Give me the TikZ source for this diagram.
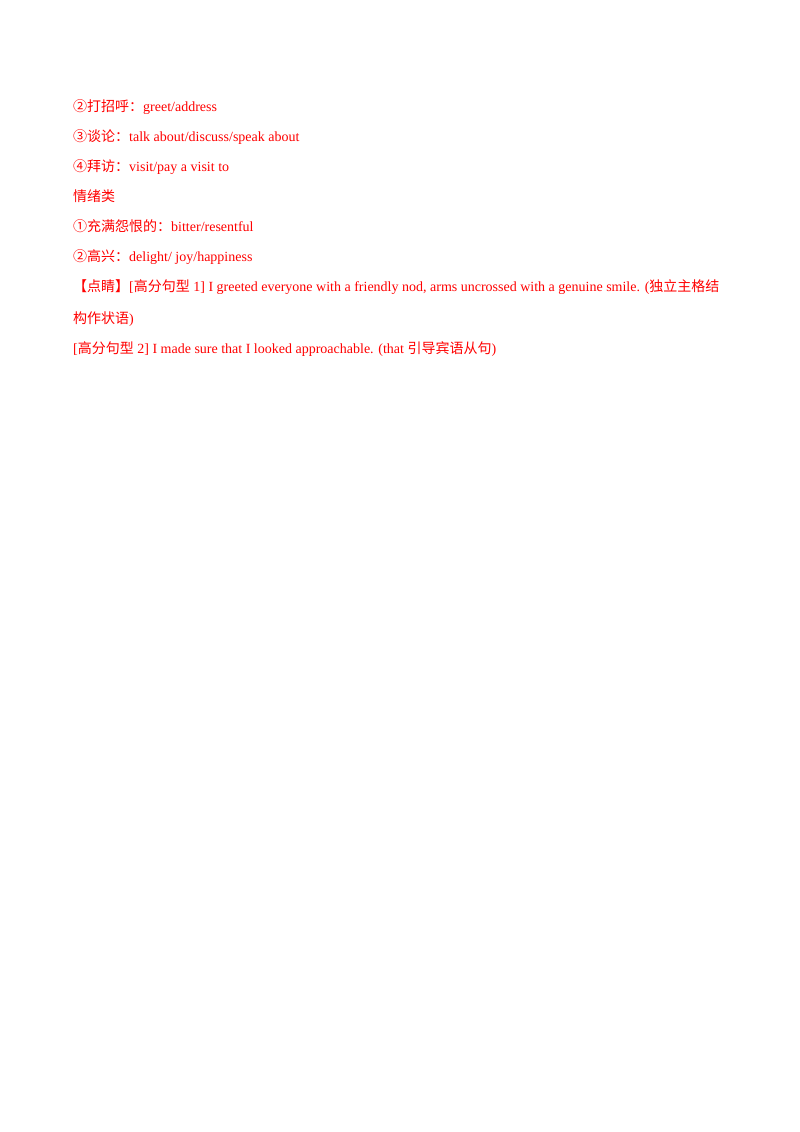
\documentclass[tikz,border=0pt]{standalone}
\usepackage{fontspec}
\setmainfont{Liberation Serif}
\newfontfamily\cjk{Noto Sans CJK SC}
\definecolor{txtred}{RGB}{255,0,0}
\tikzset{ln/.style={anchor=base west,inner sep=0pt,text=txtred,font=\fontsize{14}{16}\selectfont}}
\begin{document}
\begin{tikzpicture}[x=1pt,y=1pt]
\useasboundingbox (0,0) rectangle (800,-1132);
\node[ln] (l1) at (73,-111) {{\cjk ②打招呼：}greet/address};
\node[ln] (l2) at (73,-141) {{\cjk ③谈论：}talk about/discuss/speak about};
\node[ln] (l3) at (73,-171) {{\cjk ④拜访：}visit/pay a visit to};
\node[ln] (l4) at (73,-201) {{\cjk 情绪类}};
\node[ln] (l5) at (73,-231) {{\cjk ①充满怨恨的：}bitter/resentful};
\node[ln] (l6) at (73,-261) {{\cjk ②高兴：}delight/ joy/happiness};
\node[ln] (l7) at (73,-291) {{\cjk 【点睛】}[{\cjk 高分句型} 1] I greeted everyone with a friendly nod, arms uncrossed with a genuine smile. ({\cjk 独立主格结}};
\node[ln] (l8) at (73,-323) {{\cjk 构作状语})};
\node[ln] (l9) at (73,-353) {[{\cjk 高分句型} 2] I made sure that I looked approachable. (that {\cjk 引导宾语从句})};
\end{tikzpicture}
\end{document}
